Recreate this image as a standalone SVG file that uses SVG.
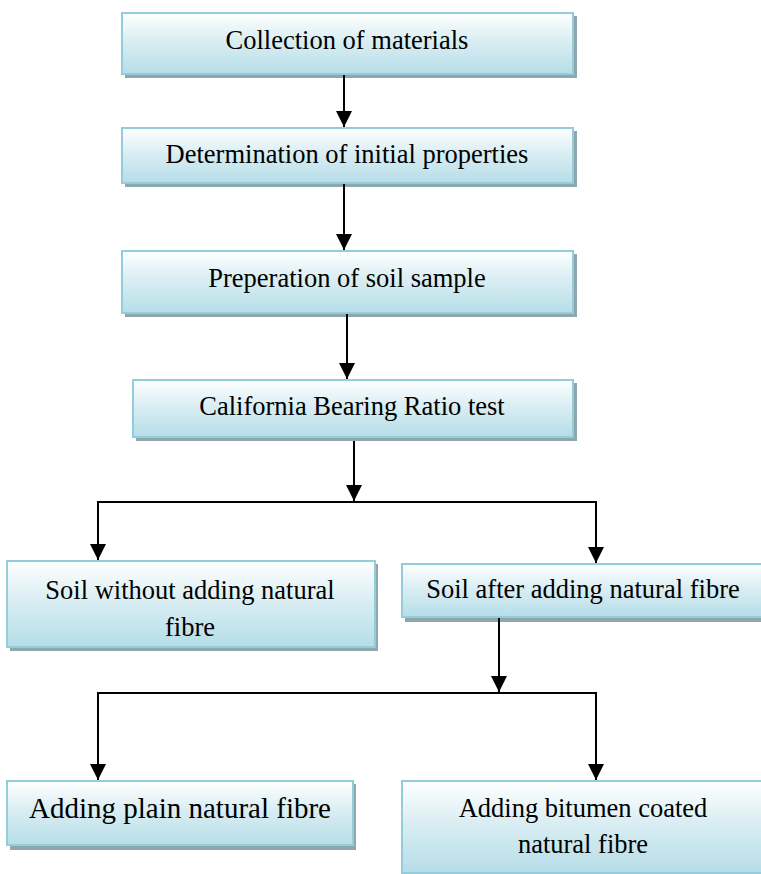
<svg xmlns="http://www.w3.org/2000/svg" width="761" height="874" viewBox="0 0 761 874">
<defs>
<linearGradient id="g" x1="0" y1="0" x2="0" y2="1">
<stop offset="0" stop-color="#ffffff"/>
<stop offset="0.45" stop-color="#daeef3"/>
<stop offset="1" stop-color="#b6dde8"/>
</linearGradient>
<marker id="ah" markerWidth="16" markerHeight="16" viewBox="0 0 16 16" refX="16" refY="8" orient="auto" markerUnits="userSpaceOnUse">
<path d="M0,0 L16,8 L0,16 Z" fill="#000"/>
</marker>
</defs>
<style>
.sh{fill:#8fa6ad}
.bx{fill:url(#g);stroke:#92cddc;stroke-width:2}
.t{font-family:"Liberation Serif","Times New Roman",serif;font-size:26.5px;fill:#000;text-anchor:middle}
.c{fill:none;stroke:#000;stroke-width:2}
</style>
<rect width="761" height="874" fill="#fff"/>
<g id="n1"><rect class="sh" x="125" y="16" width="452" height="62"/><rect class="bx" x="122" y="13" width="451" height="61"/><text class="t" x="347" y="49">Collection of materials</text></g>
<g id="n2"><rect class="sh" x="125" y="131" width="452" height="56"/><rect class="bx" x="122" y="128" width="451" height="55"/><text class="t" x="347" y="163">Determination of initial properties</text></g>
<g id="n3"><rect class="sh" x="125" y="254" width="452" height="63"/><rect class="bx" x="122" y="251" width="451" height="62"/><text class="t" x="347" y="287">Preperation of soil sample</text></g>
<g id="n4"><rect class="sh" x="136" y="383" width="441" height="58"/><rect class="bx" x="133" y="380" width="440" height="57"/><text class="t" x="352" y="415">California Bearing Ratio test</text></g>
<g id="n5"><rect class="sh" x="10" y="564" width="368" height="87"/><rect class="bx" x="7" y="561" width="368" height="86"/><text class="t" x="190" y="599">Soil without adding natural</text><text class="t" x="190" y="636">fibre</text></g>
<g id="n6"><rect class="sh" x="405" y="567" width="360" height="55"/><rect class="bx" x="402" y="564" width="362" height="53"/><text class="t" x="583" y="598">Soil after adding natural fibre</text></g>
<g id="n7"><rect class="sh" x="10" y="784" width="346" height="66"/><rect class="bx" x="7" y="781" width="346" height="64"/><text class="t" x="180" y="818" style="font-size:29px">Adding plain natural fibre</text></g>
<g id="n8"><rect class="sh" x="405" y="784" width="360" height="92"/><rect class="bx" x="402" y="781" width="362" height="92"/><text class="t" x="583" y="817">Adding bitumen coated</text><text class="t" x="583" y="853">natural fibre</text></g>
<g id="connectors">
<path class="c" d="M344,75 V127" marker-end="url(#ah)"/>
<path class="c" d="M344,184 V250" marker-end="url(#ah)"/>
<path class="c" d="M347,314 V379" marker-end="url(#ah)"/>
<path class="c" d="M354,441 V501" marker-end="url(#ah)"/>
<path class="c" d="M98,502 H596"/>
<path class="c" d="M98,501 V560" marker-end="url(#ah)"/>
<path class="c" d="M596,501 V563" marker-end="url(#ah)"/>
<path class="c" d="M499,618 V692" marker-end="url(#ah)"/>
<path class="c" d="M98,693 H596"/>
<path class="c" d="M98,692 V780" marker-end="url(#ah)"/>
<path class="c" d="M596,692 V780" marker-end="url(#ah)"/>
</g>
</svg>
